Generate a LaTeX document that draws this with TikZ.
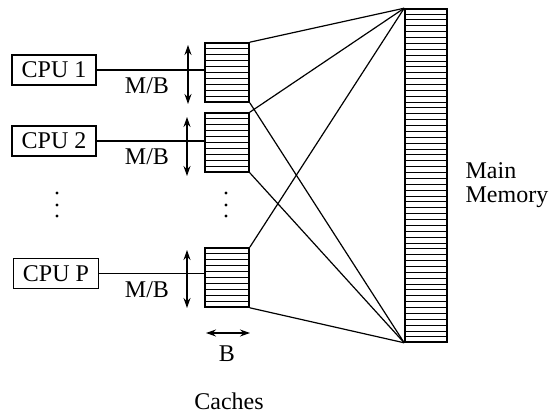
\documentclass[tikz,border=0pt]{standalone}
\usepackage{fontspec}
\setmainfont{Liberation Serif}
\usetikzlibrary{arrows.meta,calc}

\begin{document}
\begin{tikzpicture}[x=0.5pt,y=-0.5pt,line width=0.6pt,
    font=\fontsize{12}{12}\selectfont,
    cpu/.style={draw,line width=0.8pt,minimum height=15pt,inner xsep=4.8pt,inner ysep=0pt},
    cache/.style={draw,line width=0.8pt,minimum width=22pt,minimum height=29.5pt,inner sep=0pt},
    memory/.style={draw,line width=0.8pt,minimum width=21pt,minimum height=166.5pt,inner sep=0pt},
    dbl/.style={{Stealth[length=5pt,width=3.5pt]}-{Stealth[length=5pt,width=3.5pt]}}]
            \useasboundingbox (0,0) rectangle (553,412);

            % processors
            \node[cpu] (cpu1) at (54,70) {CPU 1};
            \node[cpu] (cpu2) at (54,141) {CPU 2};
            \node[cpu] (cpuP) at (56,273.5) {CPU P};

            % caches and main memory
            \node[cache] (c1) at (227,72.5) {};
            \node[cache] (c2) at (227,142.5) {};
            \node[cache] (cP) at (227,277.5) {};
            \node[memory] (mem) at (426,175.5) {};
            \foreach \c in {c1,c2,cP}
                \foreach \i in {1,...,9}
                    \draw[line width=0.5pt] ($(\c.north west)!\i/10!(\c.south west)$)
                        -- ($(\c.north east)!\i/10!(\c.south east)$);
            \foreach \i in {1,...,56}
                \draw[line width=0.5pt] ($(mem.north west)!\i/57!(mem.south west)$)
                    -- ($(mem.north east)!\i/57!(mem.south east)$);

            % links
            \foreach \n/\c in {cpu1/c1,cpu2/c2,cpuP/cP}
                \draw (\n.east) -- (\n.east -| \c.west);
            \foreach \c in {c1,c2,cP} {
                \draw (\c.north east) -- (mem.north west);
                \draw (\c.south east) -- (mem.south west);
            }

            % block counts
            \coordinate (m1t) at (188,45);
            \coordinate (m1b) at (188,104);
            \coordinate (m2t) at (187,117);
            \coordinate (m2b) at (187,176);
            \coordinate (mPt) at (187,250);
            \coordinate (mPb) at (187,308);
            \draw[dbl] (m1t) -- (m1b);
            \draw[dbl] (m2t) -- (m2b);
            \draw[dbl] (mPt) -- (mPb);
            \node (mb1) at (147,86) {M/B};
            \node (mb2) at (147,157) {M/B};
            \node (mbP) at (147,290) {M/B};

            % dots
            \foreach \y in {193,205,216} {
                \fill (57,\y) circle (0.8pt);
                \fill (226,\y) circle (0.8pt);
            }

            % block size
            \coordinate (bl) at (206,333);
            \coordinate (br) at (250,333);
            \draw[dbl] (bl) -- (br);
            \node (blabel) at (227,354) {B};
            \node[inner sep=1pt] (caches) at (229,401) {Caches};
            \node[align=left,anchor=west,inner sep=0pt] (memlabel) at (465,185) {Main\\Memory};
\end{tikzpicture}
\end{document}
